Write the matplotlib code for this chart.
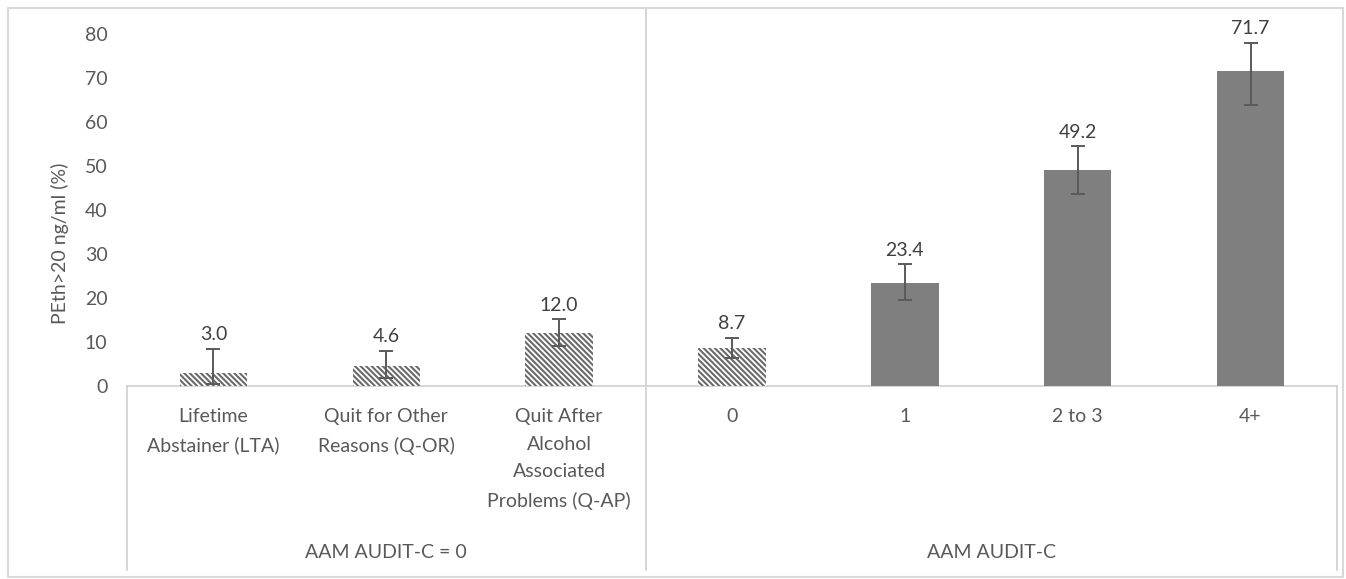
import numpy as np
import matplotlib
matplotlib.use('Agg')
import matplotlib.pyplot as plt
import matplotlib.transforms as mtransforms
from matplotlib.lines import Line2D

# data
categories = ["Lifetime\nAbstainer (LTA)", "Quit for Other\nReasons (Q-OR)",
              "Quit After\nAlcohol\nAssociated\nProblems (Q-AP)",
              "0", "1", "2 to 3", "4+"]
values = [3.0, 4.6, 12.0, 8.7, 23.4, 49.2, 71.7]
ci_low = [0.5, 1.9, 9.2, 6.3, 19.5, 43.6, 63.9]
ci_high = [8.4, 8.0, 15.2, 10.9, 27.7, 54.5, 78.0]
hatched = [True, True, True, True, False, False, False]
groups = ["AAM AUDIT-C = 0", "AAM AUDIT-C"]
group_sizes = [3, 4]

txt = '#595959'
fs = 14
plt.rcParams['font.family'] = ['Lato', 'DejaVu Sans']
plt.rcParams['hatch.linewidth'] = 1.5

W, H = 1346, 579
fig = plt.figure(figsize=(W / 100, H / 100), dpi=100)
ax = fig.add_axes([127 / W, 1 - 386 / H, (1337 - 127) / W, (386 - 12) / H])

x = np.arange(len(values))
vals = np.array(values)
yerr = [vals - np.array(ci_low), np.array(ci_high) - vals]

for i in x:
    if hatched[i]:
        ax.bar(i, vals[i], width=0.39, color='white', edgecolor='#6a6a6a',
               linewidth=0, hatch='\\' * 6, zorder=2)
    else:
        ax.bar(i, vals[i], width=0.39, color='#7f7f7f', linewidth=0, zorder=2)

ax.errorbar(x, vals, yerr=yerr, fmt='none', ecolor='#5a5a5a', elinewidth=1.4,
            capsize=5, capthick=1.4, zorder=3)

for i in x:
    ax.annotate('%.1f' % values[i], (i, ci_high[i]), xytext=(0, 4),
                textcoords='offset points', ha='center', va='bottom',
                fontsize=fs, color='#404040')

ax.set_xlim(-0.5, len(values) - 0.5)
ax.set_ylim(0, 85)
ax.set_yticks(range(0, 81, 10))
ax.tick_params(axis='y', length=0, pad=14, labelsize=fs, labelcolor=txt)
ax.set_xticks(x)
ax.set_xticklabels(categories, fontsize=fs, color=txt, linespacing=1.75, va='top')
ax.tick_params(axis='x', length=0, pad=16)
for s in ax.spines.values():
    s.set_visible(False)

# category axis box lines
line_c = '#d0d0d0'
blend = mtransforms.blended_transform_factory(ax.transData, ax.transAxes)
ax.plot([-0.5, len(values) - 0.5], [0, 0], transform=blend, color=line_c,
        lw=1.2, clip_on=False, zorder=1)
bottom = -0.492
edges = np.cumsum([0] + group_sizes) - 0.5
for k, e in enumerate(edges):
    top = 1.01 if 0 < k < len(edges) - 1 else 0
    ax.plot([e, e], [bottom, top], transform=blend, color=line_c, lw=1.2,
            clip_on=False, zorder=1)
for g, lo, hi in zip(groups, edges[:-1], edges[1:]):
    ax.text((lo + hi) / 2, -0.445, g, transform=blend, ha='center', va='center',
            fontsize=fs, color=txt)

fig.text(60 / W, 1 - 243 / H, 'PEth>20 ng/ml (%)', rotation=90, ha='center',
         va='center', fontsize=fs, color=txt)

# outer chart border
fig.add_artist(Line2D([8 / W, 1343 / W, 1343 / W, 8 / W, 8 / W],
                      [1 - 8 / H, 1 - 8 / H, 1 - 577 / H, 1 - 577 / H, 1 - 8 / H],
                      color='#d9d9d9', lw=1.5))

fig.savefig('out.png', dpi=100)
